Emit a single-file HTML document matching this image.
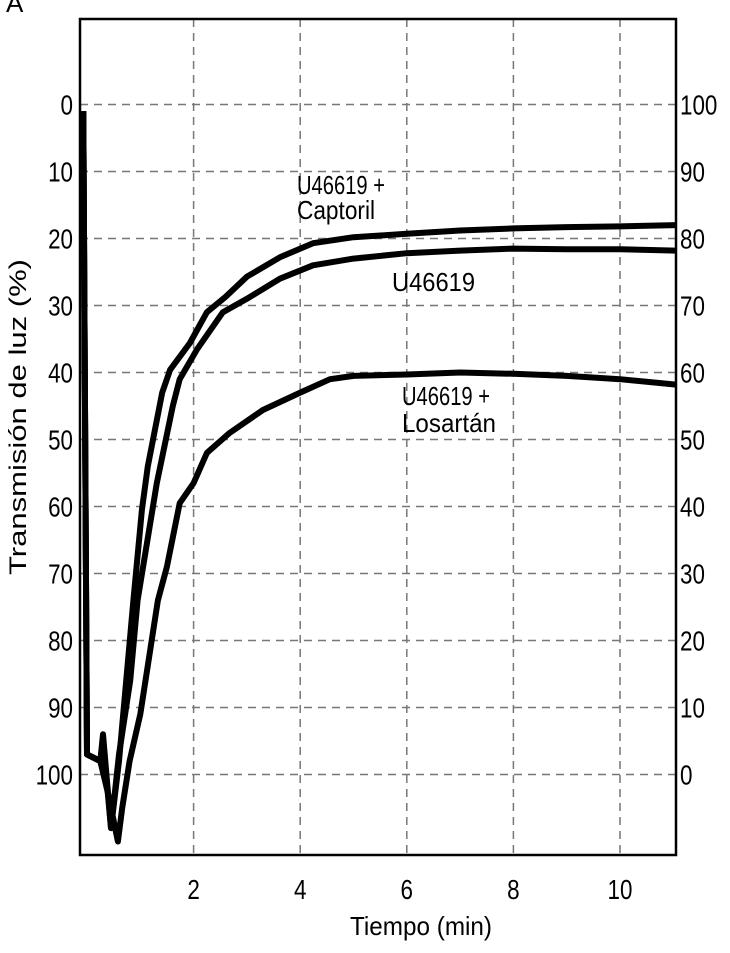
<!DOCTYPE html>
<html><head><meta charset="utf-8"><style>
html,body{margin:0;padding:0;background:#fff;}
svg text{font-family:"Liberation Sans",sans-serif;fill:#000;}
</style></head><body>
<svg id="chart" width="730" height="948" viewBox="0 0 730 948" xmlns="http://www.w3.org/2000/svg">
<text x="6" y="12" font-size="26">A</text>
<g id="grid"></g>
<rect x="80" y="19" width="596" height="836" fill="none" stroke="#000" stroke-width="2.5"/>
<g id="series"></g>
<g id="axes"></g>
<text class="n" x="297" y="194" font-size="26" textLength="88" lengthAdjust="spacingAndGlyphs">U46619 +</text>
<text class="n" x="297" y="219" font-size="26" textLength="78" lengthAdjust="spacingAndGlyphs">Captoril</text>
<text class="n" x="392" y="291" font-size="26" textLength="83" lengthAdjust="spacingAndGlyphs">U46619</text>
<text class="n" x="402" y="405" font-size="26" textLength="88" lengthAdjust="spacingAndGlyphs">U46619 +</text>
<text class="n" x="402" y="432" font-size="26" textLength="94" lengthAdjust="spacingAndGlyphs">Losartán</text>
<text x="350" y="935" font-size="26" textLength="142" lengthAdjust="spacingAndGlyphs">Tiempo (min)</text>
<text transform="translate(26,575) rotate(-90)" font-size="24" textLength="316" lengthAdjust="spacingAndGlyphs">Transmisión de luz (%)</text>
</svg>
<script>
const xTicks=[2,4,6,8,10];
const yTicksLeft=[0,10,20,30,40,50,60,70,80,90,100];
const yTicksRight=[100,90,80,70,60,50,40,30,20,10,0];
const tCapt=[-0.07,0,0.25,0.3,0.45,0.6,0.87,1.03,1.14,1.41,1.56,1.93,2.25,2.6,3.0,3.62,4.24,5,6,7,8,9,10,11.05];
const vCapt=[1,97,98,95,108,98,74,60.5,54,43,39.6,35.6,31,28.7,25.7,22.8,20.7,19.8,19.3,18.8,18.5,18.3,18.2,18];
const tU=[-0.07,0,0.25,0.3,0.45,0.6,0.81,0.95,1.31,1.61,1.74,2.06,2.55,3.0,3.62,4.24,5,6,7,8,9,10,11.05];
const vU=[1,97,98,94,108,97,86,74,56.5,45,41,36.6,31,29,26,24,23,22.2,21.8,21.5,21.6,21.6,21.8];
const tL=[-0.07,0,0.25,0.4,0.58,0.66,0.8,1.0,1.33,1.5,1.74,2.0,2.25,2.68,3.3,4.0,4.56,5,6,7,8,9,10,11.05];
const vL=[1,97,98,103,110,105,98,91,74,69,59.5,56.5,52,49,45.6,43,41,40.5,40.3,40,40.2,40.5,41,41.8];
const X=t=>87+53.3*t, Y=v=>104.5+6.7*v;
const NS="http://www.w3.org/2000/svg";
const grid=document.getElementById('grid'),axes=document.getElementById('axes'),ser=document.getElementById('series');
function mk(tag,attrs,parent){const e=document.createElementNS(NS,tag);for(const k in attrs)e.setAttribute(k,attrs[k]);parent.appendChild(e);return e;}
function narrow(tx){const w=tx.getComputedTextLength();tx.setAttribute('textLength',(w*0.8).toFixed(1));tx.setAttribute('lengthAdjust','spacingAndGlyphs');}
xTicks.forEach(t=>{
  const l=mk('line',{x1:X(t),x2:X(t),y1:19,y2:855,stroke:'#777','stroke-width':1.5,'stroke-dasharray':'8,6'},grid);
  
  
  const tx=mk('text',{x:X(t),y:899,'font-size':28,'text-anchor':'middle'},axes);
  tx.textContent=t;
  
  
  narrow(tx);
});
yTicksLeft.forEach((v,i)=>{
  const l=mk('line',{x1:80,x2:676,y1:Y(v),y2:Y(v),stroke:'#777','stroke-width':1.5,'stroke-dasharray':'8,6'},grid);
  
  
  const tx=mk('text',{x:73,y:Y(v)+10,'font-size':28,'text-anchor':'end'},axes);
  tx.textContent=v;
  
  
  narrow(tx);
  const tr=mk('text',{x:680,y:Y(v)+10,'font-size':28},axes);
  tr.textContent=yTicksRight[i];
  
  
  narrow(tr);
});
function draw(ts,vs,name){
  const d=ts.map((t,i)=>(i?'L':'M')+X(t).toFixed(1)+','+Y(vs[i]).toFixed(1)).join('');
  const p=mk('path',{d:d,fill:'none',stroke:'#000','stroke-width':6,'stroke-linejoin':'round'},ser);
  
  
}
draw(tCapt,vCapt,'series-u46619-captopril');
draw(tU,vU,'series-u46619');
draw(tL,vL,'series-u46619-losartan');
</script>
</body></html>
